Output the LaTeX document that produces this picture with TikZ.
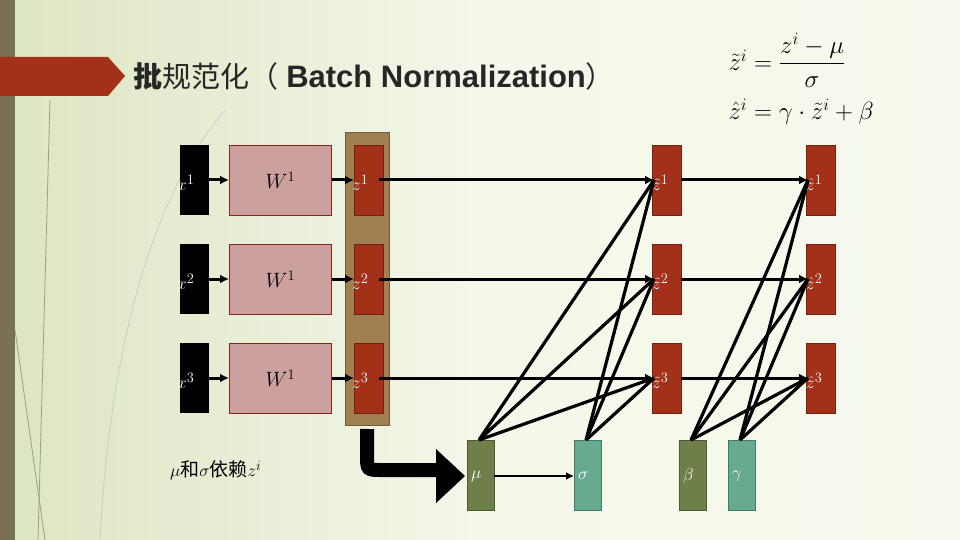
\documentclass[tikz,border=0pt]{standalone}
\usepackage{amsmath}
\usepackage{fontspec}
\setmainfont{Liberation Sans}
\newfontfamily\cjk{Noto Sans CJK SC}
\usetikzlibrary{arrows.meta}
\definecolor{bgA}{HTML}{DCE5C2}
\definecolor{bgB}{HTML}{F7F9EE}
\definecolor{barc}{HTML}{7A7055}
\definecolor{redc}{HTML}{A3311A}
\definecolor{pinkc}{HTML}{CDA0A0}
\definecolor{brownc}{HTML}{A08050}
\definecolor{olivec}{HTML}{6E7F4A}
\definecolor{tealc}{HTML}{66AA90}
\begin{document}
\begin{tikzpicture}[x=1pt,y=-1pt,
  box/.style={minimum width=#1,inner sep=0pt,anchor=north west,minimum height=70},
  xb/.style={box=29,fill=black},
  wb/.style={box=102,fill=pinkc,draw=redc!80!black,line width=0.6},
  zb/.style={box=29,fill=redc,draw=redc!70!black},
  ob/.style={box=27,fill=olivec,draw=olivec!70!black},
  tb/.style={box=27,fill=tealc,draw=tealc!70!black},
  lab/.style={text=white,font=\fontsize{19}{22}\selectfont,anchor=west,inner sep=0pt},
  arr/.style={line width=3,-{Latex[length=9,width=9]}},
  ln/.style={line width=3.2}]
\useasboundingbox (0,0) rectangle (960,540);
\shade[left color=bgA,right color=bgB,middle color=bgB!90!bgA] (0,0) rectangle (960,540);
\fill[barc] (0,0) rectangle (15,540);
\draw[barc!70,line width=0.8] (50,100) -- (38,540);
\draw[barc!70,line width=0.8] (15,330) -- (45,540);
\draw[barc!40,line width=0.6] (225,110) .. controls (150,200) and (110,350) .. (100,540);
\fill[redc] (0,57) -- (108,57) -- (125,76) -- (108,96) -- (0,96) -- cycle;
\node[anchor=west,font=\fontsize{29}{32}\selectfont,text=black!85,inner sep=0pt] (title) at (133,76) {{\cjk\bfseries 批}{\cjk 规范化（} \textbf{\fontsize{31}{34}\selectfont Batch Normalization}{\cjk ）}};
\node[anchor=west,font=\fontsize{24}{28}\selectfont] (f1) at (725,60) {$\tilde z^{i}=\dfrac{z^{i}-\mu}{\sigma}$};
\node[anchor=west,font=\fontsize{24}{28}\selectfont] (f2) at (725,112) {$\hat z^{i}=\gamma\cdot\tilde z^{i}+\beta$};
\node[box=44,minimum height=293,fill=brownc,draw=brownc!70!black] (bz) at (345,132) {};
\foreach \i/\y in {1/145,2/244,3/343}{
  \node[xb] (x\i) at (180,\y) {};
  \node[lab] at (177,\y+38) {$x^{\i}$};
  \node[wb,font=\fontsize{21}{24}\selectfont] (w\i) at (229,\y) {$W^{1}$};
  \node[zb] (z\i) at (354,\y) {};
  \node[lab] at (352,\y+38) {$z^{\i}$};
  \node[zb] (t\i) at (652,\y) {};
  \node[lab] at (652,\y+38) {$\tilde z^{\i}$};
  \node[zb] (h\i) at (806,\y) {};
  \node[lab] at (806,\y+38) {$\hat z^{\i}$};
  \coordinate (tl\i) at (654,\y+35);
  \coordinate (hl\i) at (808,\y+35);
  \draw[arr] (x\i.east|-0,\y+35) -- (w\i.west|-0,\y+35);
  \draw[arr] (w\i.east|-0,\y+35) -- (z\i.west|-0,\y+35);
  \draw[arr] ([xshift=-4]z\i.east|-0,\y+35) -- (tl\i);
  \draw[arr] (t\i.east|-0,\y+35) -- (hl\i);
}
\node[ob] (mu) at (467,440) {};
\node[lab] at (471,476) {$\mu$};
\node[tb] (sg) at (574,440) {};
\node[lab] at (578,476) {$\sigma$};
\node[ob] (be) at (679,440) {};
\node[lab] at (683,476) {$\beta$};
\node[tb] (ga) at (728,440) {};
\node[lab] at (732,476) {$\gamma$};
\foreach \i in {1,2,3}{
  \draw[ln] ([xshift=12]mu.north west) -- (tl\i);
  \draw[ln] ([xshift=12]sg.north west) -- (tl\i);
  \draw[ln] ([xshift=12]be.north west) -- (hl\i);
  \draw[ln] ([xshift=12]ga.north west) -- (hl\i);
}
\draw[line width=2.2,-{Latex[length=8,width=8]}] (mu.east|-0,476) -- (sg.west|-0,476);
\draw[line width=14] (bz.south|-0,429) -- (367,455) .. controls (367,470) .. (382,470) -- (440,470);
\fill[black] (436,449) -- (465,476) -- (436,503) -- cycle;
\node[anchor=west,font=\fontsize{19}{22}\selectfont,inner sep=0pt] (note) at (170,470) {$\mu${\cjk 和}$\sigma${\cjk 依赖}$z^{i}$};
\end{tikzpicture}
\end{document}
